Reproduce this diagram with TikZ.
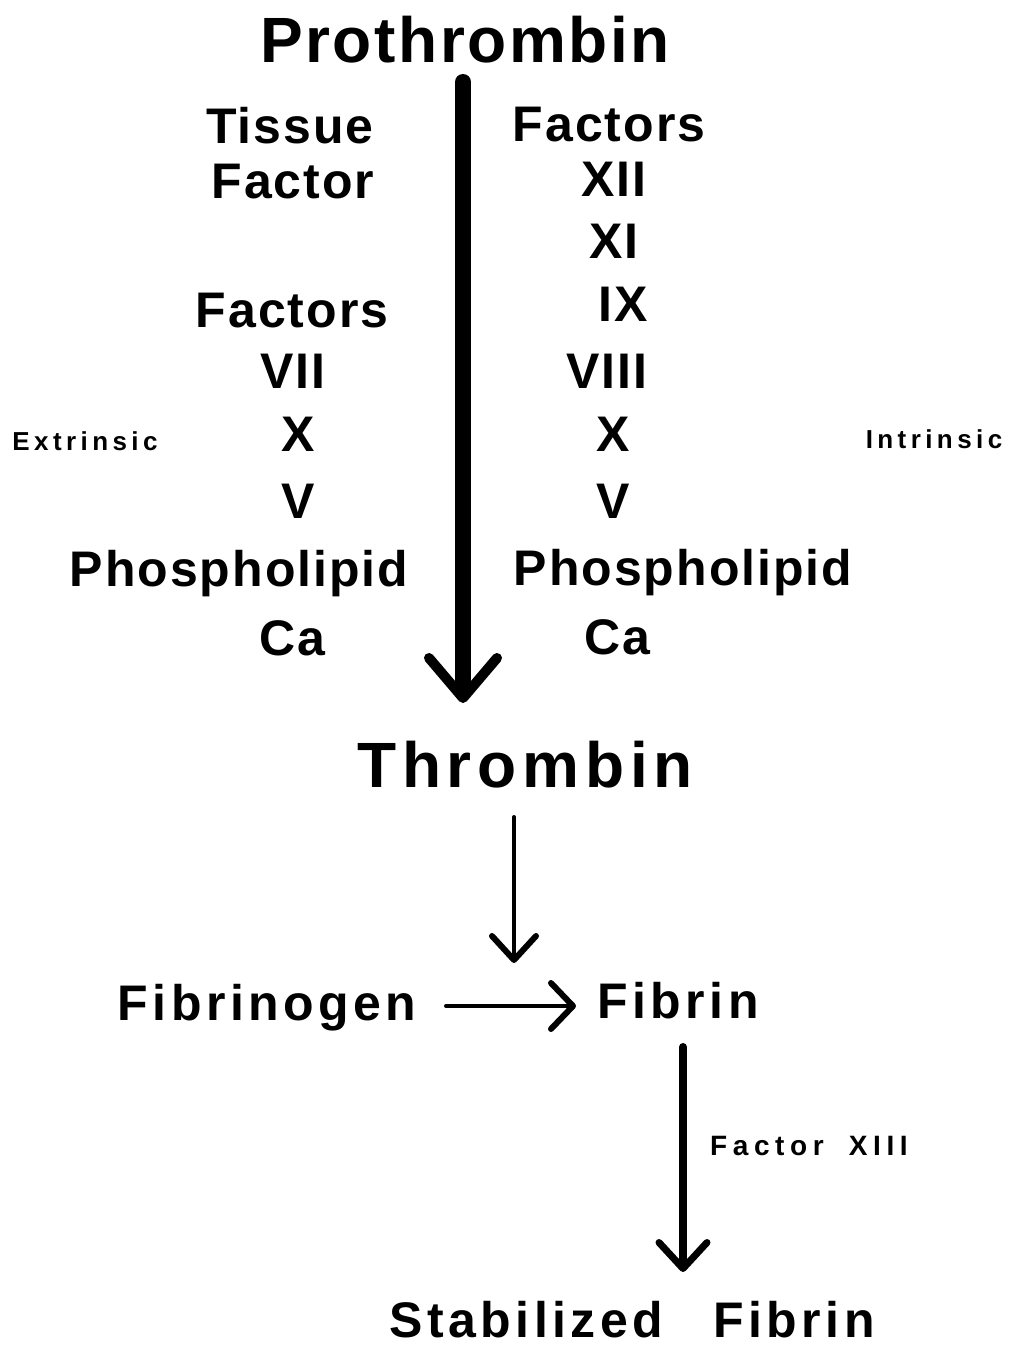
\documentclass[tikz,border=0pt]{standalone}
\usepackage{fontspec}
\newfontfamily\bigfont{Liberation Sans}[LetterSpace=4]
\newfontfamily\widefont{Liberation Sans}[LetterSpace=9]
\newfontfamily\sidefont{Liberation Sans}[LetterSpace=17]
\newfontfamily\notefont{Liberation Sans}[LetterSpace=20]
\usetikzlibrary{arrows.meta}

\begin{document}
\begin{tikzpicture}[
  x=1pt,y=-1pt,
  every node/.style={anchor=base,inner sep=0pt},
  title/.style={font=\bigfont\bfseries\fontsize{64}{64}\selectfont},
  product/.style={font=\widefont\bfseries\fontsize{64}{64}\selectfont},
  factor/.style={font=\bigfont\bfseries\fontsize{50}{50}\selectfont},
  fibre/.style={font=\widefont\bfseries\fontsize{50}{50}\selectfont},
  side/.style={font=\sidefont\bfseries\fontsize{26}{26}\selectfont},
  note/.style={font=\notefont\bfseries\fontsize{28}{28}\selectfont},
  flow/.style={line cap=round}
]
\useasboundingbox (0,0) rectangle (1014,1347);

\node[title] (pro) at (465,62) {Prothrombin};
\node[product] (thr) at (525,787) {Thrombin};

\foreach \x/\y/\t [count=\i] in {290/143/Tissue,293/198/Factor,292/327/Factors,
    293/388/VII,298/451/X,298/518/V,239/586/Phospholipid,292/655/Ca}
  \node[factor] (ext\i) at (\x,\y) {\t};
\foreach \x/\y/\t [count=\i] in {609/141/Factors,614/196/XII,614/258/XI,623/321/IX,
    607/388/VIII,613/451/X,613/518/V,683/585/Phospholipid,617/654/Ca}
  \node[factor] (int\i) at (\x,\y) {\t};

\node[side] (extr) at (85,450) {Extrinsic};
\node[side] (intr) at (934,448) {Intrinsic};

\node[fibre] (fbg) at (267,1020) {Fibrinogen};
\node[fibre] (fib) at (678,1018) {Fibrin};
\node[note] (f13) at (809,1155) {Factor\hspace{0.9em}XIII};
\node[fibre] (sfib) at (632,1337) {Stabilized\hspace{1em}Fibrin};

\coordinate (a1) at (463,82);   \coordinate (a1e) at (463,703);
\coordinate (a2) at (514,817);  \coordinate (a2e) at (514,963);
\coordinate (a3) at (446,1006); \coordinate (a3e) at (576,1006);
\coordinate (a4) at (683,1047); \coordinate (a4e) at (683,1272);

\draw[flow,line width=16pt,-{Straight Barb[length=40pt 0 0,width=68pt 0 0,line width=10pt,round]}] (a1) -- (a1e);
\draw[flow,line width=4pt,-{Straight Barb[length=24pt 0 0,width=44pt 0 0,line width=6pt,round]}] (a2) -- (a2e);
\draw[flow,line width=4pt,-{Straight Barb[length=22pt 0 0,width=46pt 0 0,line width=6pt,round]}] (a3) -- (a3e);
\draw[flow,line width=8pt,-{Straight Barb[length=26pt 0 0,width=48pt 0 0,line width=7pt,round]}] (a4) -- (a4e);
\end{tikzpicture}
\end{document}
